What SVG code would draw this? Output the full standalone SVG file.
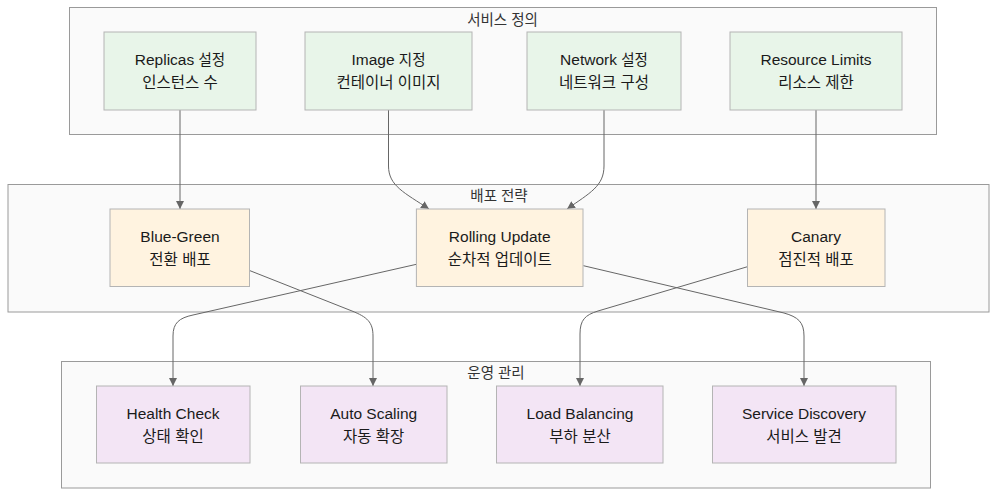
<svg xmlns="http://www.w3.org/2000/svg" width="1006" height="500" viewBox="0 0 1006 500">
<defs>
<style>
.cluster{fill:#fafafa;stroke:#9a9a9a;stroke-width:1}
.ctitle{font-family:"Liberation Sans","Noto Sans CJK KR",sans-serif;font-size:14.5px;fill:#333;text-anchor:middle;dominant-baseline:central}
.n rect{stroke:#b4b4b4;stroke-width:1}
.g rect{fill:#e8f5e9}
.o rect{fill:#fff3e0}
.p rect{fill:#f3e5f5}
.n text{font-family:"Liberation Sans","Noto Sans CJK KR",sans-serif;font-size:15.5px;fill:#1a1a1a;text-anchor:middle;dominant-baseline:central}
.ko{font-size:14.5px}
.edge{fill:none;stroke:#666;stroke-width:1;marker-end:url(#arr)}
</style>
<marker id="arr" viewBox="0 0 10 10" refX="10" refY="5" markerWidth="8" markerHeight="8" markerUnits="userSpaceOnUse" orient="auto">
<path d="M0,0 L10,5 L0,10 z" fill="#666"/>
</marker>
</defs>
<rect width="1006" height="500" fill="#ffffff"/>
<g id="clusters">
<g id="cluster-service">
<rect class="cluster" x="69.5" y="7.5" width="867" height="127"/>
<text class="ctitle" x="502.5" y="19.5">서비스 정의</text>
</g>
<g id="cluster-deploy">
<rect class="cluster" x="8" y="184.5" width="981" height="127.5"/>
<text class="ctitle" x="499" y="195.5">배포 전략</text>
</g>
<g id="cluster-ops">
<rect class="cluster" x="61.5" y="361.5" width="869" height="126.5"/>
<text class="ctitle" x="496" y="372.5">운영 관리</text>
</g>
</g>
<g id="connectors">
<path class="edge" d="M180,110 V209"/>
<path class="edge" d="M388.5,110 V166 C388.5,186 405,193 429,209"/>
<path class="edge" d="M604,110 V166 C604,186 590,193 567,209"/>
<path class="edge" d="M816,110 V209"/>
<path class="edge" d="M249.5,270.5 L352,311 C367,317 373,322 373,336 V386"/>
<path class="edge" d="M416.4,264.3 L193,315 C179,318 173,323 173,336 V386"/>
<path class="edge" d="M583.4,265.7 L784,313 C798,317 804,322 804,336 V386"/>
<path class="edge" d="M747.5,266.7 L598,311 C585,315 580,320 580,334 V386"/>
</g>
<g id="node-replicas" class="n g">
<rect x="104" y="32" width="152" height="78"/>
<text x="180" y="59.5">Replicas <tspan class="ko">설정</tspan></text>
<text x="180" y="82.5" class="ko">인스턴스 수</text>
</g>
<g id="node-image" class="n g">
<rect x="305" y="32" width="167" height="78"/>
<text x="388.5" y="59.5">Image <tspan class="ko">지정</tspan></text>
<text x="388.5" y="82.5" class="ko">컨테이너 이미지</text>
</g>
<g id="node-network" class="n g">
<rect x="527" y="32" width="154" height="78"/>
<text x="604" y="59.5">Network <tspan class="ko">설정</tspan></text>
<text x="604" y="82.5" class="ko">네트워크 구성</text>
</g>
<g id="node-resource" class="n g">
<rect x="730" y="32" width="172" height="78"/>
<text x="816" y="59.5">Resource Limits</text>
<text x="816" y="82.5" class="ko">리소스 제한</text>
</g>
<g id="node-bluegreen" class="n o">
<rect x="110" y="209" width="139.5" height="77.5"/>
<text x="180" y="236.5">Blue-Green</text>
<text x="180" y="259.5" class="ko">전환 배포</text>
</g>
<g id="node-rolling" class="n o">
<rect x="416.4" y="209" width="166.6" height="77.5"/>
<text x="499.7" y="236.5">Rolling Update</text>
<text x="499.7" y="259.5" class="ko">순차적 업데이트</text>
</g>
<g id="node-canary" class="n o">
<rect x="747.5" y="209" width="137.5" height="77.5"/>
<text x="816" y="236.5">Canary</text>
<text x="816" y="259.5" class="ko">점진적 배포</text>
</g>
<g id="node-health" class="n p">
<rect x="96.5" y="386" width="153.5" height="77"/>
<text x="173" y="413">Health Check</text>
<text x="173" y="436" class="ko">상태 확인</text>
</g>
<g id="node-autoscaling" class="n p">
<rect x="300.5" y="386" width="146.5" height="77"/>
<text x="373.7" y="413">Auto Scaling</text>
<text x="373.7" y="436" class="ko">자동 확장</text>
</g>
<g id="node-loadbalancing" class="n p">
<rect x="496.5" y="386" width="166.5" height="77"/>
<text x="580" y="413">Load Balancing</text>
<text x="580" y="436" class="ko">부하 분산</text>
</g>
<g id="node-servicediscovery" class="n p">
<rect x="712.5" y="386" width="183.5" height="77"/>
<text x="804" y="413">Service Discovery</text>
<text x="804" y="436" class="ko">서비스 발견</text>
</g>
</svg>
